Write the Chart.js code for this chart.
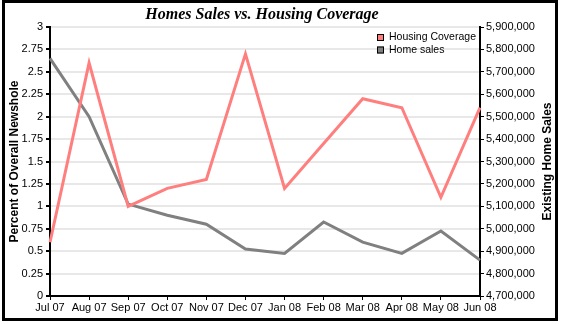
<!DOCTYPE html>
<html>
<head>
<meta charset="utf-8">
<script src="https://cdn.jsdelivr.net/npm/chart.js@4.4.1/dist/chart.umd.min.js"></script>
<style>
    html, body { margin: 0; padding: 0; background: #fff; }
    #wrap { position: relative; width: 561px; height: 324px; }
    #chart { position: absolute; left: 0; top: 0; }
    #frame {
        position: absolute; left: 2px; top: 0; width: 556px; height: 321px;
        border: 3px solid #000; box-sizing: border-box; pointer-events: none;
    }
</style>
</head>
<body>
<div id="wrap">
    <canvas id="chart" width="561" height="324"></canvas>
    <div id="frame"></div>
</div>
<script>
const months = ['Jul 07', 'Aug 07', 'Sep 07', 'Oct 07', 'Nov 07', 'Dec 07',
                'Jan 08', 'Feb 08', 'Mar 08', 'Apr 08', 'May 08', 'Jun 08'];
// share of the newshole given to housing stories
const housingCoverage = [0.6, 2.6, 1.0, 1.2, 1.3, 2.7, 1.2, 1.7, 2.2, 2.1, 1.1, 2.1];
// existing home sales, seasonally adjusted annual rate
const homeSales = [5760000, 5500000, 5110000, 5060000, 5020000, 4910000,
                   4890000, 5030000, 4940000, 4890000, 4990000, 4860000];
const pctTicks = [0, 0.25, 0.5, 0.75, 1, 1.25, 1.5, 1.75, 2, 2.25, 2.5, 2.75, 3];
const salesTicks = [4700000, 4800000, 4900000, 5000000, 5100000, 5200000, 5300000,
                    5400000, 5500000, 5600000, 5700000, 5800000, 5900000];

const SANS = '"Liberation Sans", Arial, sans-serif';

// title, right axis title and the boxed legend are drawn by hand
const extras = {
    id: 'extras',
    afterDraw(chart) {
        const c = chart.ctx;
        const area = chart.chartArea;
        c.save();
        c.fillStyle = '#000';
        c.font = 'italic bold 16px "Liberation Serif", "Times New Roman", serif';
        c.textAlign = 'center';
        c.textBaseline = 'middle';
        c.fillText('Homes Sales vs. Housing Coverage', 262, 15);

        c.font = 'bold 12px ' + SANS;
        c.translate(548, (area.top + area.bottom) / 2);
        c.rotate(-Math.PI / 2);
        c.fillText('Existing Home Sales', 0, 0);
        c.restore();

        c.save();
        c.font = '10.5px ' + SANS;
        c.textBaseline = 'middle';
        c.textAlign = 'left';
        chart.data.datasets.forEach((ds, i) => {
            const y = 37 + i * 12.5;
            c.fillStyle = ds.borderColor;
            c.fillRect(377, y - 3, 7, 7);
            c.strokeStyle = '#000';
            c.lineWidth = 1;
            c.strokeRect(377.5, y - 2.5, 6, 6);
            c.fillStyle = '#000';
            c.fillText(ds.label, 389, y + 0.5);
        });
        c.restore();
    }
};

new Chart(document.getElementById('chart'), {
    type: 'line',
    data: {
        labels: months,
        datasets: [
            {
                label: 'Housing Coverage',
                data: housingCoverage,
                yAxisID: 'y',
                borderColor: '#ff7f7f',
                borderWidth: 3,
                pointRadius: 0,
                tension: 0
            },
            {
                label: 'Home sales',
                data: homeSales,
                yAxisID: 'y2',
                borderColor: '#808080',
                borderWidth: 3,
                pointRadius: 0,
                tension: 0
            }
        ]
    },
    options: {
        responsive: false,
        animation: false,
        layout: { padding: { top: 27, left: 0, right: 0, bottom: 0 } },
        plugins: {
            legend: { display: false },
            title: { display: false },
            tooltip: { enabled: false }
        },
        scales: {
            x: {
                offset: false,
                grid: { drawOnChartArea: false, tickColor: '#000', tickLength: 4 },
                border: { color: '#000', width: 2 },
                ticks: {
                    color: '#000', font: { family: SANS, size: 11 },
                    padding: 1, autoSkip: false, maxRotation: 0
                },
                afterFit(s) { s.height = 28; }
            },
            y: {
                position: 'left',
                min: 0,
                max: 3,
                afterBuildTicks(s) { s.ticks = pctTicks.map(v => ({ value: v })); },
                grid: { color: '#e8e8e8', lineWidth: 2, tickColor: '#000', tickLength: 4 },
                border: { color: '#000', width: 2 },
                ticks: {
                    color: '#000', font: { family: SANS, size: 11 }, padding: 3,
                    callback: v => String(+v.toFixed(2))
                },
                title: {
                    display: true,
                    text: 'Percent of Overall Newshole',
                    color: '#000',
                    font: { family: SANS, size: 12, weight: 'bold' },
                    padding: { top: 7, bottom: 0 }
                },
                afterFit(s) { s.width = 50; }
            },
            y2: {
                position: 'right',
                min: 4700000,
                max: 5900000,
                afterBuildTicks(s) { s.ticks = salesTicks.map(v => ({ value: v })); },
                grid: { drawOnChartArea: false, tickColor: '#000', tickLength: 4 },
                border: { color: '#000', width: 2 },
                ticks: {
                    color: '#000', font: { family: SANS, size: 11 }, padding: 2,
                    callback: v => v.toLocaleString('en-US')
                },
                afterFit(s) { s.width = 81; }
            }
        }
    },
    plugins: [extras]
});
</script>
</body>
</html>
